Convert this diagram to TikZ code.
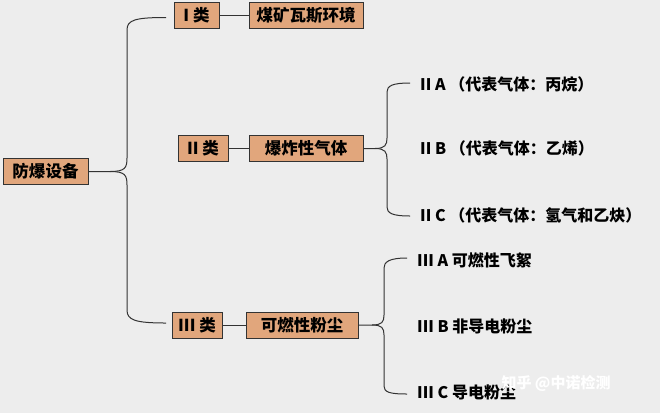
\documentclass[tikz,border=0pt]{standalone}
\usepackage{fontspec}
\setmainfont{Noto Sans CJK SC}
\begin{document}
\begin{tikzpicture}[x=1pt,y=-1pt,
  box/.style={draw=black!80,line width=1pt,fill=boxc,minimum height=26pt,inner sep=0pt,font=\fontsize{16.5}{18}\selectfont\bfseries},
  lab/.style={anchor=west,inner sep=0pt,font=\fontsize{16}{18}\selectfont\bfseries},
  ln/.style={draw=black!80,line width=1pt}]
\definecolor{boxc}{HTML}{E1A67C}
\fill[gray!14] (0,0) rectangle (660,413);
\useasboundingbox (0,0) rectangle (660,413);
\node[box,minimum width=85pt] (root) at (45.5,171.5) {防爆设备};
\node[box,minimum width=45pt] (c1) at (196.5,15) {I 类};
\node[box,minimum width=114pt] (d1) at (306,15) {煤矿瓦斯环境};
\node[box,minimum width=50pt] (c2) at (203,148.5) {II 类};
\node[box,minimum width=114pt] (d2) at (306,148.5) {爆炸性气体};
\node[box,minimum width=50pt] (c3) at (197,325) {III 类};
\node[box,minimum width=112pt] (d3) at (302,325) {可燃性粉尘};
\node[lab] (a1) at (420,84) {II A （代表气体：丙烷）};
\node[lab] (a2) at (420,148) {II B （代表气体：乙烯）};
\node[lab] (a3) at (420,215) {II C （代表气体：氢气和乙炔）};
\node[lab] (b1) at (417,260) {III A 可燃性飞絮};
\node[lab] (b2) at (417,326) {III B 非导电粉尘};
\node[lab] (b3) at (417,392) {III C 导电粉尘};
\node[anchor=west,text=white,font=\fontsize{15}{16}\selectfont\bfseries] (wm) at (498,383) {知乎 @中诺检测};
\draw[ln] (c1) -- (d1); \draw[ln] (c2) -- (d2); \draw[ln] (c3) -- (d3);
% main brace
\draw[ln] (root.east) -- (110,171.5) .. controls (125,171.5) and (127,168) .. (127,158) -- (127,30) .. controls (127,20) and (135,17.5) .. (166,17.5);
\draw[ln] (110,171.5) .. controls (125,171.5) and (127,175) .. (127,185) -- (127,310) .. controls (127,320) and (135,323) .. (166,323);
% II brace
\draw[ln] (d2.east) -- (375,148.5) .. controls (385,148.5) and (387,145) .. (387,138) -- (387,92) .. controls (387,86) and (392,83) .. (410,83);
\draw[ln] (375,148.5) .. controls (385,148.5) and (387,152) .. (387,159) -- (387,207) .. controls (387,213) and (392,216) .. (410,216);
% III brace
\draw[ln] (d3.east) -- (372,325) .. controls (382,325) and (384,322) .. (384,315) -- (384,268) .. controls (384,262) and (389,258) .. (407,258);
\draw[ln] (372,325) .. controls (382,325) and (384,328) .. (384,335) -- (384,386) .. controls (384,392) and (389,394) .. (407,394);
\end{tikzpicture}
\end{document}
